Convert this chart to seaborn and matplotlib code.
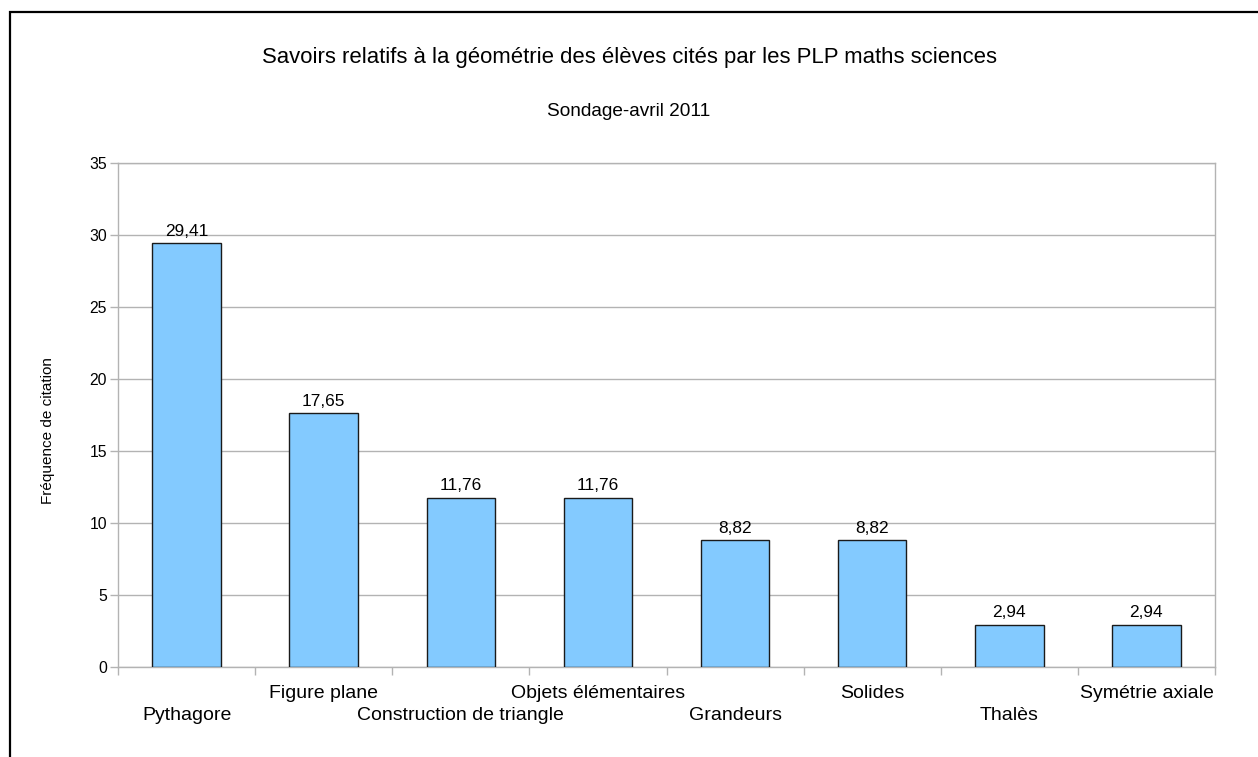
import pandas as pd
import seaborn as sns
import matplotlib.pyplot as plt
from matplotlib.patches import Rectangle
from matplotlib.ticker import MultipleLocator, FixedLocator
from matplotlib.transforms import ScaledTranslation

categories = ['Pythagore', 'Figure plane', 'Construction de triangle', 'Objets élémentaires',
              'Grandeurs', 'Solides', 'Thalès', 'Symétrie axiale']
frequences = [29.41, 17.65, 11.76, 11.76, 8.82, 8.82, 2.94, 2.94]

df = pd.DataFrame({'savoir': categories, 'freq': frequences})

sns.set_style('white')
plt.rcParams['font.family'] = ['Liberation Sans', 'DejaVu Sans']
plt.rcParams['text.color'] = 'black'
plt.rcParams['axes.labelcolor'] = 'black'
plt.rcParams['xtick.color'] = 'black'
plt.rcParams['ytick.color'] = 'black'

fig = plt.figure(figsize=(12.58, 7.57), dpi=100)
ax = fig.add_axes([118 / 1258, 1 - 667 / 757, (1215 - 118) / 1258, (667 - 163) / 757])

sns.barplot(data=df, x='savoir', y='freq', color='#83caff', edgecolor='#1a1a1a',
            linewidth=1.0, width=0.5, saturation=1, ax=ax, zorder=3)

# value labels with french decimal comma
ax.bar_label(ax.containers[0], labels=[f'{v:.2f}'.replace('.', ',') for v in frequences],
             padding=3, fontsize=12.4)

ax.set_ylim(0, 35)
ax.set_xlim(-0.5, len(categories) - 0.5)
ax.yaxis.set_major_locator(MultipleLocator(5))
ax.grid(axis='y', color='#b3b3b3', linewidth=1, zorder=0)
ax.tick_params(axis='y', left=True, length=6, color='#b3b3b3', width=1, labelsize=11.3, pad=2)

# staggered category labels, ticks between categories
ax.set_xticks(range(len(categories)))
ax.set_xticklabels(categories, fontsize=14)
ax.tick_params(axis='x', which='major', bottom=True, length=0, pad=13)
ax.xaxis.set_minor_locator(FixedLocator([i - 0.5 for i in range(len(categories) + 1)]))
ax.tick_params(axis='x', which='minor', bottom=True, length=6, color='#b3b3b3', width=1)
shift = ScaledTranslation(0, -0.22, fig.dpi_scale_trans)
for lab in ax.get_xticklabels()[::2]:
    lab.set_transform(lab.get_transform() + shift)

for s in ax.spines.values():
    s.set_color('#b3b3b3')
    s.set_linewidth(1)

ax.set_xlabel('')
ax.set_ylabel('Fréquence de citation', fontsize=11)
ax.yaxis.set_label_coords(-0.057, 0.47)

fig.text(0.5, 1 - 57 / 757, 'Savoirs relatifs à la géométrie des élèves cités par les PLP maths sciences',
         ha='center', va='center', fontsize=15.9)
fig.text(0.5, 1 - 111 / 757, 'Sondage-avril 2011', ha='center', va='center', fontsize=13.7)

# outer chart frame (only top and left edges inside the picture)
fig.patches.append(Rectangle((10 / 1258, -0.1), 1.2, 1.1 - 12 / 757, transform=fig.transFigure,
                             fill=False, edgecolor='black', linewidth=1.6))

plt.savefig('out.png', dpi=100)
